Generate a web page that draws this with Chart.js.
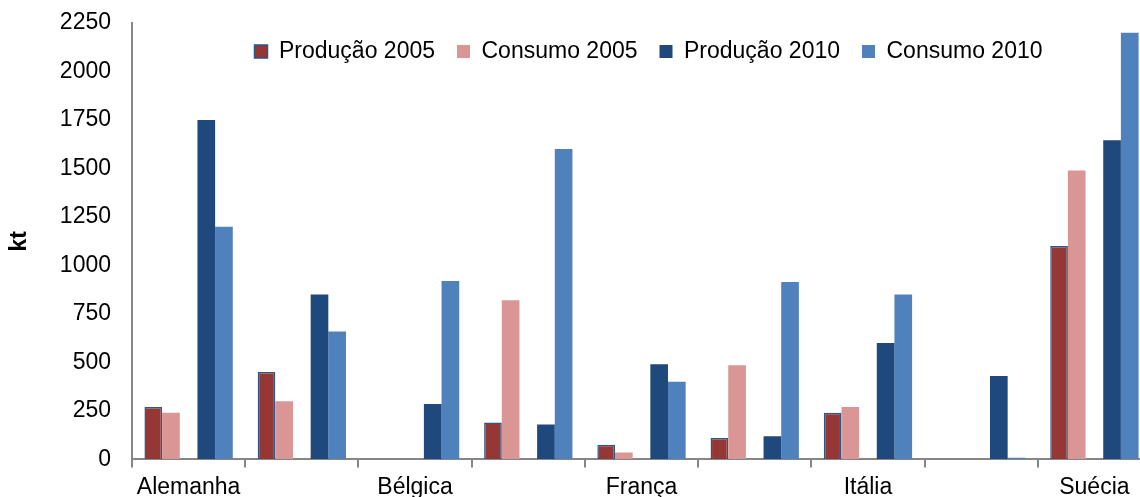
<!DOCTYPE html>
<html>
<head>
<meta charset="utf-8">
<script src="https://cdn.jsdelivr.net/npm/chart.js@4/dist/chart.umd.min.js"></script>
<style>
  html, body { margin: 0; padding: 0; background: #fff; overflow: hidden; }
  #wrap { width: 1160px; height: 507px; }
</style>
</head>
<body>
<div id="wrap"><canvas id="grafico"></canvas></div>
<script>
// paises (so os de indice par aparecem no eixo)
var paises = ['Alemanha', 'Áustria', 'Bélgica', 'Dinamarca', 'França', 'Holanda', 'Itália', 'Portugal', 'Suécia'];

// valores em kt
var producao2005 = [270, 450, null, 190, 75, 110, 240, null, 1100];
var consumo2005  = [240, 300, null, 820, 35, 485, 270, null, 1490];
var producao2010 = [1750, 850, 285, 180, 490, 120, 600, 430, 1645];
var consumo2010  = [1200, 660, 920, 1600, 400, 915, 850, 8, 2200];

var marcasY = [0, 250, 500, 750, 1000, 1250, 1500, 1750, 2000, 2250];

var fonte = "'Liberation Sans', Arial, sans-serif";
var cinza = '#868686';

// legenda por cima da area do grafico, sem ocupar espaco
var legendaSobreposta = {
  id: 'legendaSobreposta',
  beforeInit: function (chart) {
    var fitOriginal = chart.legend.fit;
    chart.legend.fit = function () {
      fitOriginal.call(this);
      this.height = 0;
    };
  },
  afterLayout: function (chart) {
    var lg = chart.legend;
    lg.top = chart.chartArea.top - 5;
    lg.height = 60;
    lg.bottom = lg.top + lg.height;
    lg.left += 7;
    lg.right += 7;
  }
};

var ctx = document.getElementById('grafico').getContext('2d');
var grafico = new Chart(ctx, {
  type: 'bar',
  data: {
    labels: paises,
    datasets: [
      { label: 'Produção 2005', data: producao2005, backgroundColor: '#953735', borderColor: '#2E5686', borderWidth: 1.5 },
      { label: 'Consumo 2005', data: consumo2005, backgroundColor: '#D99694', borderWidth: 0 },
      { label: '', data: [], backgroundColor: 'rgba(0,0,0,0)' }, // espaco entre 2005 e 2010
      { label: 'Produção 2010', data: producao2010, backgroundColor: '#1F497D', borderWidth: 0 },
      { label: 'Consumo 2010', data: consumo2010, backgroundColor: '#4F81BD', borderWidth: 0 }
    ]
  },
  options: {
    responsive: true,
    maintainAspectRatio: false,
    animation: false,
    datasets: { bar: { categoryPercentage: 0.78, barPercentage: 1.0 } },
    layout: { padding: { top: 23, right: 9, left: 0, bottom: 0 } },
    plugins: {
      tooltip: { enabled: false },
      legend: {
        position: 'top',
        fullSize: false,
        align: 'center',
        labels: {
          font: { family: fonte, size: 23 },
          color: '#000',
          boxWidth: 13,
          boxHeight: 13,
          padding: 22,
          filter: function (item) { return item.text !== ''; }
        }
      }
    },
    scales: {
      x: {
        grid: { display: true, drawOnChartArea: false, drawTicks: true, tickLength: 8, color: cinza, lineWidth: 2 },
        border: { display: true, color: cinza, width: 2 },
        ticks: {
          autoSkip: false,
          maxRotation: 0,
          padding: 6,
          color: '#000',
          font: { family: fonte, size: 23 },
          callback: function (valor, i) { return i % 2 === 0 ? paises[i] : ''; }
        }
      },
      y: {
        min: 0,
        max: 2250,
        afterBuildTicks: function (escala) {
          escala.ticks = marcasY.map(function (v) { return { value: v }; });
        },
        afterFit: function (escala) {
          escala.width = 132;
          // o espaco acima vem so do padding do layout
          escala.paddingTop = 0;
          escala.paddingBottom = 0;
        },
        grid: { display: true, drawOnChartArea: false, drawTicks: false },
        border: { display: true, color: cinza, width: 2 },
        ticks: {
          padding: 21,
          color: '#000',
          font: { family: fonte, size: 23 },
          callback: function (valor) { return String(valor); }
        },
        title: {
          display: true,
          text: 'kt',
          color: '#000',
          padding: { top: 6, bottom: 0 },
          font: { family: fonte, size: 23, weight: 'bold' }
        }
      }
    }
  },
  plugins: [legendaSobreposta]
});
</script>
</body>
</html>
